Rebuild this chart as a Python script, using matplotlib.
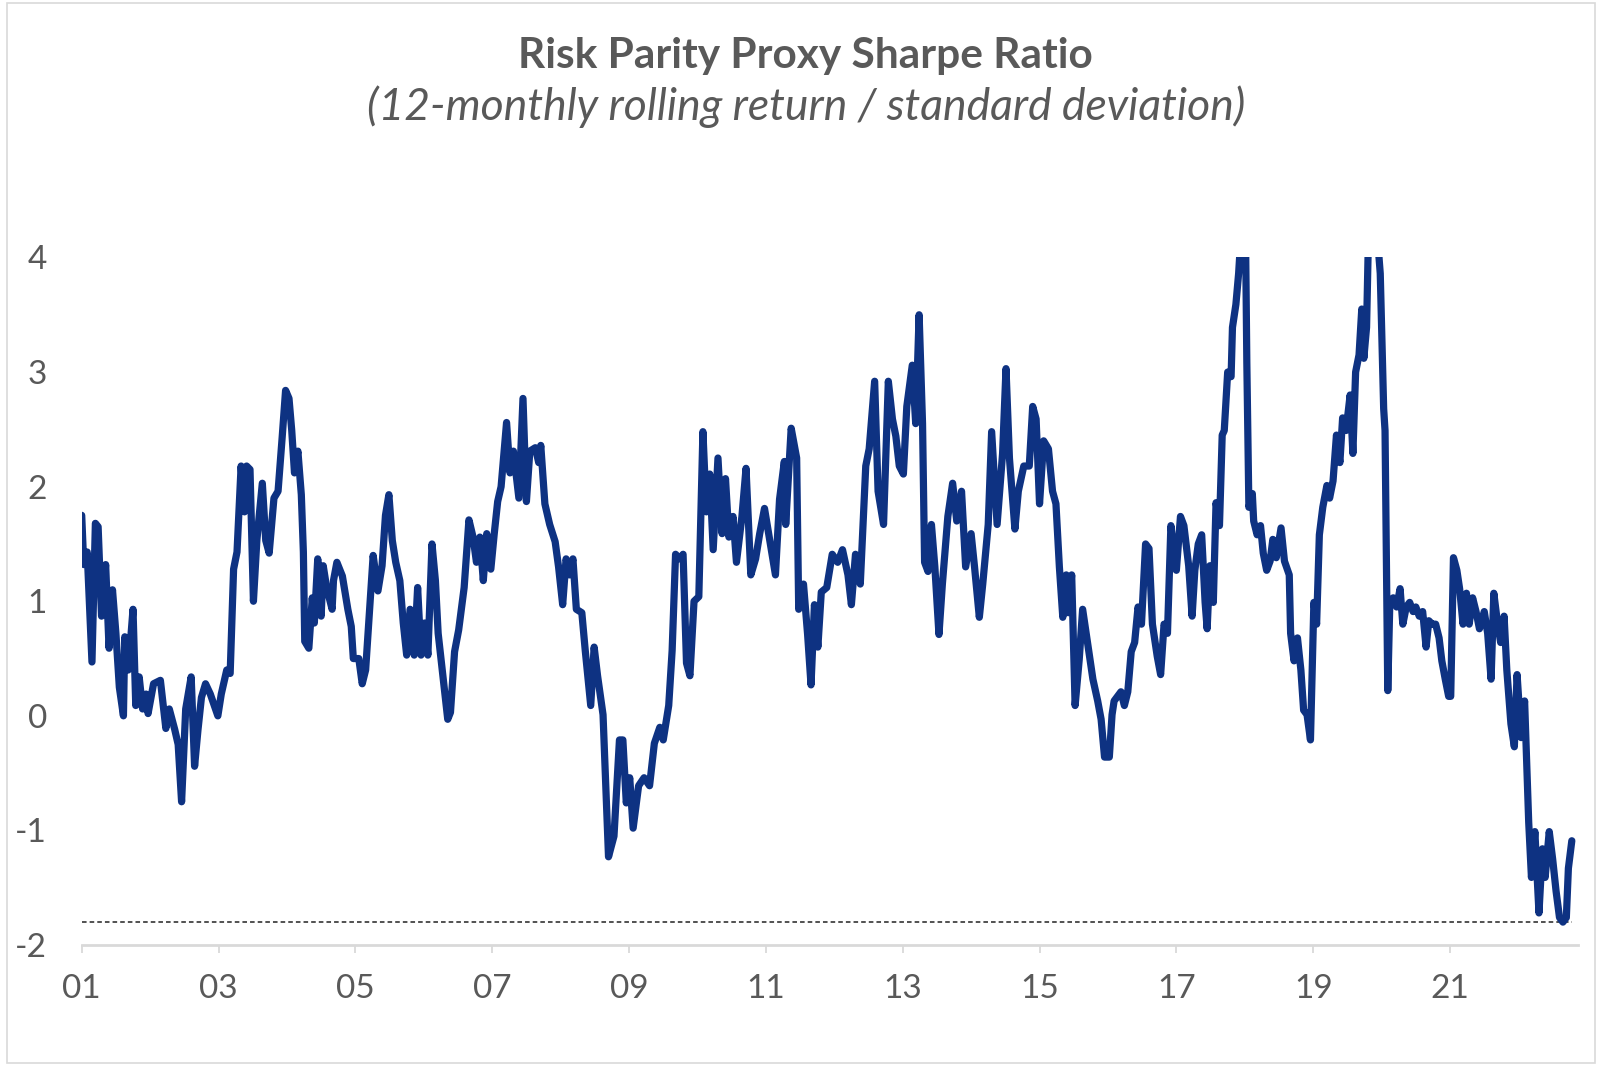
import numpy as np
import matplotlib
matplotlib.use("Agg")
import matplotlib.pyplot as plt
from matplotlib.patches import Rectangle

# ---------------- data (decimal year, Sharpe ratio) ----------------
dates_2001_2007 = [
    2001.00, 2001.03, 2001.08, 2001.15, 2001.20, 2001.24, 2001.29, 2001.35, 2001.40, 2001.45,
    2001.50, 2001.55, 2001.61, 2001.63, 2001.68, 2001.75, 2001.79, 2001.84, 2001.89, 2001.94,
    2001.97, 2002.05, 2002.15, 2002.23, 2002.28, 2002.36, 2002.41, 2002.46, 2002.52, 2002.60,
    2002.65, 2002.70, 2002.75, 2002.81, 2002.88, 2002.99, 2003.04, 2003.12, 2003.17, 2003.22,
    2003.27, 2003.33, 2003.38, 2003.41, 2003.46, 2003.51, 2003.56, 2003.64, 2003.69, 2003.74,
    2003.81, 2003.87, 2003.93, 2003.98, 2004.03, 2004.07, 2004.11, 2004.16, 2004.21, 2004.24,
    2004.26, 2004.32, 2004.37, 2004.40, 2004.45, 2004.50, 2004.53, 2004.58, 2004.66, 2004.68,
    2004.73, 2004.81, 2004.89, 2004.94, 2004.97, 2005.05, 2005.10, 2005.15, 2005.23, 2005.26,
    2005.33, 2005.39, 2005.44, 2005.49, 2005.54, 2005.59, 2005.65, 2005.70, 2005.75, 2005.80,
    2005.86, 2005.91, 2005.96, 2006.01, 2006.06, 2006.12, 2006.17, 2006.21, 2006.27, 2006.35,
    2006.39, 2006.45, 2006.51, 2006.59, 2006.66, 2006.72, 2006.77, 2006.82, 2006.87, 2006.92,
    2006.98, 2007.03, 2007.08, 2007.13, 2007.21, 2007.26, 2007.31, 2007.39, 2007.45, 2007.50,
    2007.55, 2007.63, 2007.68,
]
sharpe_2001_2007 = [
    1.75, 1.32, 1.43, 0.47, 1.68, 1.65, 0.87, 1.32, 0.59, 1.10,
    0.72, 0.25, 0.00, 0.69, 0.40, 0.93, 0.09, 0.34, 0.06, 0.19,
    0.02, 0.28, 0.31, -0.11, 0.06, -0.12, -0.25, -0.75, 0.06, 0.34,
    -0.44, -0.12, 0.16, 0.28, 0.19, 0.00, 0.19, 0.40, 0.37, 1.28,
    1.43, 2.18, 1.78, 2.18, 2.15, 1.00, 1.53, 2.03, 1.53, 1.42,
    1.90, 1.96, 2.43, 2.84, 2.77, 2.49, 2.12, 2.31, 1.93, 1.43,
    0.65, 0.59, 1.03, 0.81, 1.37, 0.87, 1.31, 1.12, 0.93, 1.18,
    1.34, 1.22, 0.93, 0.78, 0.50, 0.50, 0.28, 0.40, 1.12, 1.40,
    1.09, 1.31, 1.75, 1.93, 1.53, 1.34, 1.18, 0.81, 0.53, 0.93,
    0.53, 1.12, 0.53, 0.81, 0.53, 1.50, 1.18, 0.72, 0.40, -0.03,
    0.03, 0.56, 0.75, 1.12, 1.71, 1.56, 1.34, 1.56, 1.18, 1.59,
    1.28, 1.59, 1.87, 2.00, 2.56, 2.12, 2.31, 1.90, 2.77, 1.87,
    2.31, 2.34, 2.21,
]

dates_2007_2015 = [
    2007.71, 2007.77, 2007.84, 2007.92, 2007.97, 2008.03, 2008.08, 2008.13, 2008.18, 2008.23,
    2008.31, 2008.36, 2008.44, 2008.49, 2008.54, 2008.62, 2008.70, 2008.78, 2008.86, 2008.91,
    2008.96, 2009.01, 2009.06, 2009.14, 2009.22, 2009.30, 2009.37, 2009.45, 2009.50, 2009.58,
    2009.63, 2009.68, 2009.74, 2009.79, 2009.84, 2009.89, 2009.95, 2010.02, 2010.08, 2010.13,
    2010.18, 2010.23, 2010.30, 2010.36, 2010.41, 2010.46, 2010.52, 2010.57, 2010.65, 2010.71,
    2010.78, 2010.85, 2010.91, 2010.98, 2011.06, 2011.14, 2011.20, 2011.27, 2011.29, 2011.37,
    2011.45, 2011.48, 2011.55, 2011.61, 2011.66, 2011.71, 2011.76, 2011.81, 2011.89, 2011.97,
    2012.05, 2012.12, 2012.20, 2012.25, 2012.31, 2012.38, 2012.46, 2012.51, 2012.59, 2012.64,
    2012.72, 2012.79, 2012.85, 2012.90, 2012.95, 2013.01, 2013.06, 2013.14, 2013.19, 2013.24,
    2013.29, 2013.32, 2013.37, 2013.42, 2013.47, 2013.53, 2013.58, 2013.66, 2013.73, 2013.79,
    2013.86, 2013.92, 2014.00, 2014.05, 2014.12, 2014.17, 2014.25, 2014.30, 2014.38, 2014.46,
    2014.51, 2014.56, 2014.64, 2014.69, 2014.77, 2014.85, 2014.90, 2014.95, 2015.00, 2015.06,
    2015.13, 2015.19, 2015.24, 2015.29, 2015.34, 2015.39, 2015.42, 2015.47, 2015.52, 2015.58,
    2015.63,
]
sharpe_2007_2015 = [
    2.36, 1.85, 1.67, 1.52, 1.30, 0.97, 1.37, 1.23, 1.37, 0.93,
    0.90, 0.57, 0.09, 0.60, 0.35, 0.01, -1.23, -1.05, -0.21, -0.21,
    -0.76, -0.54, -0.98, -0.61, -0.54, -0.61, -0.24, -0.10, -0.21, 0.09,
    0.57, 1.41, 1.37, 1.41, 0.46, 0.35, 1.00, 1.04, 2.48, 1.78,
    2.11, 1.45, 2.25, 1.59, 2.07, 1.56, 1.74, 1.34, 1.74, 2.16,
    1.23, 1.37, 1.59, 1.81, 1.52, 1.23, 1.89, 2.22, 1.67, 2.51,
    2.25, 0.93, 1.15, 0.71, 0.27, 0.97, 0.60, 1.08, 1.12, 1.41,
    1.34, 1.45, 1.23, 0.97, 1.41, 1.15, 2.18, 2.33, 2.92, 1.96,
    1.67, 2.92, 2.59, 2.44, 2.18, 2.11, 2.70, 3.06, 2.55, 3.50,
    2.55, 1.34, 1.26, 1.67, 1.30, 0.71, 1.15, 1.74, 2.03, 1.70,
    1.96, 1.30, 1.59, 1.30, 0.86, 1.15, 1.67, 2.48, 1.67, 2.29,
    3.03, 2.25, 1.63, 1.96, 2.18, 2.18, 2.70, 2.59, 1.85, 2.40,
    2.33, 1.96, 1.85, 1.30, 0.86, 1.23, 0.90, 1.23, 0.09, 0.49,
    0.93,
]

dates_2015_2022 = [
    2015.73, 2015.78, 2015.85, 2015.90, 2015.95, 2016.02, 2016.06, 2016.09, 2016.14, 2016.19,
    2016.24, 2016.29, 2016.34, 2016.39, 2016.44, 2016.49, 2016.55, 2016.60, 2016.65, 2016.72,
    2016.77, 2016.82, 2016.87, 2016.92, 2017.00, 2017.06, 2017.11, 2017.18, 2017.23, 2017.27,
    2017.32, 2017.37, 2017.42, 2017.45, 2017.49, 2017.54, 2017.58, 2017.63, 2017.67, 2017.70,
    2017.75, 2017.80, 2017.82, 2017.87, 2017.91, 2017.95, 2018.01, 2018.03, 2018.06, 2018.11,
    2018.13, 2018.18, 2018.23, 2018.27, 2018.32, 2018.37, 2018.41, 2018.46, 2018.53, 2018.58,
    2018.65, 2018.67, 2018.72, 2018.77, 2018.82, 2018.86, 2018.91, 2018.96, 2019.01, 2019.05,
    2019.09, 2019.14, 2019.20, 2019.24, 2019.29, 2019.34, 2019.39, 2019.43, 2019.48, 2019.54,
    2019.58, 2019.62, 2019.67, 2019.71, 2019.74, 2019.78, 2019.81, 2019.93, 2019.98, 2020.03,
    2020.05, 2020.09, 2020.12, 2020.17, 2020.22, 2020.27, 2020.31, 2020.36, 2020.41, 2020.46,
    2020.50, 2020.55, 2020.60, 2020.65, 2020.69, 2020.74, 2020.79, 2020.84, 2020.88, 2020.93,
    2020.98, 2021.01, 2021.05, 2021.10, 2021.14, 2021.19, 2021.24, 2021.28, 2021.33, 2021.38,
    2021.43, 2021.50, 2021.55, 2021.60, 2021.64, 2021.69, 2021.74, 2021.79, 2021.83, 2021.89,
    2021.94, 2021.98, 2022.04, 2022.09, 2022.15, 2022.19, 2022.24, 2022.30, 2022.35, 2022.39,
    2022.45, 2022.50, 2022.55, 2022.60, 2022.65, 2022.70, 2022.73, 2022.78,
]
sharpe_2015_2022 = [
    0.52, 0.32, 0.13, -0.03, -0.36, -0.36, 0.01, 0.13, 0.17, 0.21,
    0.09, 0.21, 0.56, 0.64, 0.95, 0.80, 1.50, 1.46, 0.80, 0.52,
    0.36, 0.80, 0.72, 1.66, 1.27, 1.74, 1.66, 1.31, 0.87, 1.27,
    1.50, 1.58, 0.99, 0.76, 1.31, 0.99, 1.86, 1.66, 2.45, 2.49,
    3.00, 2.96, 3.39, 3.59, 3.86, 4.25, 4.25, 3.08, 1.82, 1.94,
    1.70, 1.58, 1.66, 1.42, 1.27, 1.35, 1.54, 1.38, 1.64, 1.35,
    1.23, 0.72, 0.48, 0.68, 0.40, 0.05, 0.01, -0.21, 0.99, 0.80,
    1.58, 1.82, 2.01, 1.90, 2.05, 2.45, 2.21, 2.60, 2.49, 2.80,
    2.29, 3.00, 3.15, 3.55, 3.12, 3.39, 4.25, 4.25, 3.86, 2.68,
    2.49, 0.22, 0.99, 1.03, 0.95, 1.11, 0.80, 0.95, 0.99, 0.91,
    0.95, 0.87, 0.91, 0.60, 0.83, 0.80, 0.80, 0.68, 0.48, 0.32,
    0.17, 0.17, 1.38, 1.27, 1.11, 0.80, 1.07, 0.80, 1.03, 0.91,
    0.76, 0.91, 0.72, 0.32, 1.07, 0.83, 0.64, 0.87, 0.40, -0.07,
    -0.27, 0.36, -0.19, 0.13, -0.93, -1.41, -1.01, -1.72, -1.16, -1.41,
    -1.01, -1.25, -1.53, -1.76, -1.80, -1.76, -1.33, -1.09,
]

floor_level = -1.8          # dashed reference line (series minimum)
x_tick_years = [2001, 2003, 2005, 2007, 2009, 2011, 2013, 2015, 2017, 2019, 2021]
x_tick_labels = ["01", "03", "05", "07", "09", "11", "13", "15", "17", "19", "21"]
y_ticks = [-2, -1, 0, 1, 2, 3, 4]

title = "Risk Parity Proxy Sharpe Ratio"
subtitle = "(12-monthly rolling return / standard deviation)"

# ---------------- plotting ----------------
dates = np.concatenate([dates_2001_2007, dates_2007_2015, dates_2015_2022])
sharpe = np.concatenate([sharpe_2001_2007, sharpe_2007_2015, sharpe_2015_2022])
assert len(dates) == len(sharpe)

plt.rcParams["font.family"] = ["Lato", "DejaVu Sans"]
TXT = "#595959"
AXC = "#d9d9d9"
NAVY = "#0e3282"

fig = plt.figure(figsize=(16.02, 10.67), dpi=100)
fig.patch.set_facecolor("white")
fig.add_artist(Rectangle((0.0044, 0.004), 0.991, 0.993, transform=fig.transFigure,
                         fill=False, edgecolor=AXC, linewidth=1.2))

ax = fig.add_axes([0.051, 0.1143, 0.934, 0.6444])
ax.plot(dates, sharpe, color=NAVY, linewidth=5.2,
        solid_joinstyle="round", solid_capstyle="round", zorder=3)
ax.hlines(floor_level, dates[0], dates[-1], colors="#222222",
          linestyles=(0, (3, 2)), linewidth=1.1, zorder=2)

ax.set_xlim(2001.0, 2022.87)
ax.set_ylim(-2, 4)

for s in ["top", "right", "left"]:
    ax.spines[s].set_visible(False)
ax.spines["bottom"].set_color(AXC)
ax.spines["bottom"].set_linewidth(2.0)

ax.set_xticks(x_tick_years)
ax.set_xticklabels(x_tick_labels)
ax.tick_params(axis="x", direction="out", length=6, width=1.3, color=AXC,
               labelsize=24, labelcolor=TXT, pad=15)
ax.set_yticks(y_ticks)
ax.set_yticklabels([str(v) for v in y_ticks])
ax.tick_params(axis="y", length=0, labelsize=24, labelcolor=TXT, pad=25)

fig.text(0.503, 0.9475, title, ha="center", va="center", fontsize=30.5,
         fontweight="bold", color=TXT)
fig.text(0.503, 0.9005, subtitle, ha="center", va="center", fontsize=32,
         fontstyle="italic", color=TXT)

fig.savefig("out.png", dpi=100, facecolor="white")
